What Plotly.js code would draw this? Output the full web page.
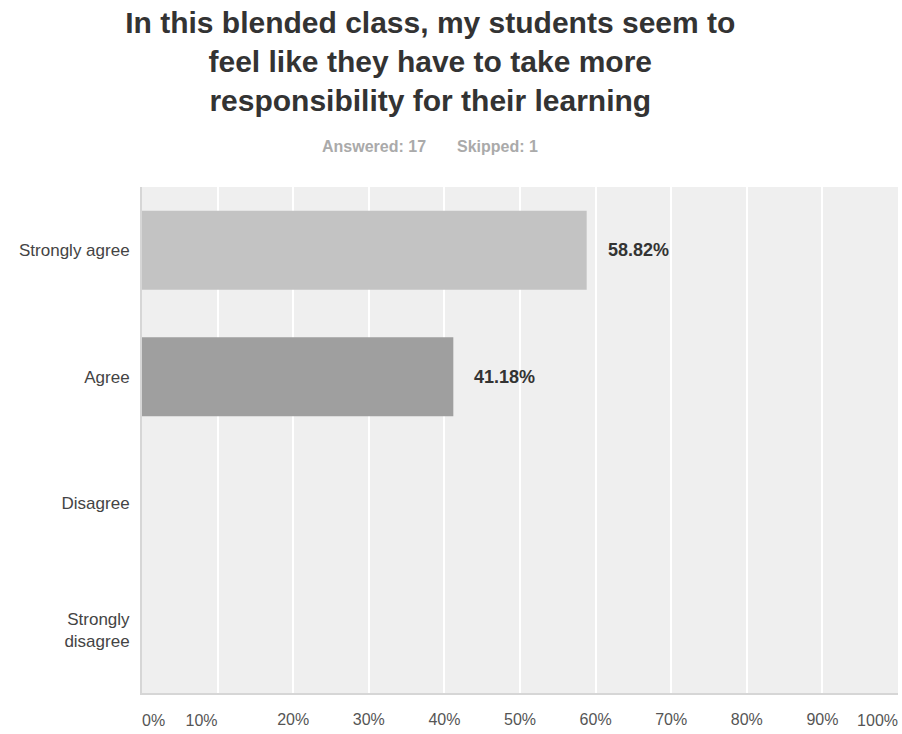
<!DOCTYPE html>
<html>
<head>
<meta charset="utf-8">
<script src="https://cdn.plot.ly/plotly-3.0.1.min.js"></script>
<style>html,body{margin:0;padding:0;background:#fff;}#chart{width:902px;height:734px;}</style>
</head>
<body>
<div id="chart"></div>
<script>
// ---- data ----
const categories = ["Strongly agree", "Agree", "Disagree", "Strongly disagree"];
const categoryLabels = ["Strongly agree", "Agree", "Disagree", "Strongly<br>disagree"];
const percents = [58.82, 41.18, 0, 0];
const answered = 17;
const skipped = 1;
const titleText = "In this blended class, my students seem to<br>feel like they have to take more<br>responsibility for their learning";
const tickValsMid = [20, 30, 40, 50, 60, 70, 80, 90];
const tickValsLeft = [10, 100];
const tickValsRight = [0];

// ---- style ----
const barColors = ["#c3c3c3", "#9f9f9f", "#c3c3c3", "#9f9f9f"];
const FONT = "Arial, 'Liberation Sans', sans-serif";
const pct = v => v + "%";

const shown = percents.map((v, i) => ({v, i})).filter(d => d.v > 0);

const traces = [
  {
    type: "bar", orientation: "h",
    x: percents, y: categories,
    marker: {color: barColors, line: {width: 0}},
    hoverinfo: "skip", showlegend: false
  },
  {type: "scatter", x: [], y: [], xaxis: "x2", yaxis: "y", hoverinfo: "skip", showlegend: false},
  {type: "scatter", x: [], y: [], xaxis: "x3", yaxis: "y", hoverinfo: "skip", showlegend: false}
];

const tickFont = {family: FONT, size: 16, color: "#555"};
const baseX = {
  range: [0, 100], fixedrange: true,
  tickfont: tickFont, ticks: "", ticklabelstandoff: 11,
  zeroline: false
};

const layout = {
  width: 902, height: 734,
  paper_bgcolor: "#ffffff", plot_bgcolor: "#efefef",
  margin: {l: 142, r: 4, t: 187, b: 41},
  bargap: 0.375,
  font: {family: FONT},
  title: {
    text: "<b>" + titleText + "</b>",
    font: {family: FONT, size: 30, color: "#333"},
    x: 0.477, xanchor: "center", xref: "container",
    y: 1 - 33 / 734, yanchor: "middle", yref: "container"
  },
  xaxis: Object.assign({}, baseX, {
    tickvals: tickValsMid, ticktext: tickValsMid.map(pct),
    showgrid: true, gridcolor: "#ffffff", gridwidth: 2,
    showline: true, linecolor: "#d6d6d6", linewidth: 2, mirror: false
  }),
  xaxis2: Object.assign({}, baseX, {
    overlaying: "x", side: "bottom", ticklabelstandoff: 16,
    tickvals: tickValsLeft, ticktext: tickValsLeft.map(pct),
    ticklabelposition: "outside left",
    showgrid: true, gridcolor: "#ffffff", gridwidth: 2, showline: false
  }),
  xaxis3: Object.assign({}, baseX, {
    overlaying: "x", side: "bottom", ticklabelstandoff: 16,
    tickvals: tickValsRight, ticktext: tickValsRight.map(pct),
    ticklabelposition: "outside right",
    showgrid: false, showline: false
  }),
  yaxis: {
    type: "category", categoryorder: "array", categoryarray: categories,
    autorange: "reversed", fixedrange: true,
    tickvals: categories, ticktext: categoryLabels,
    tickfont: {family: FONT, size: 17, color: "#444"},
    ticks: "", ticklabelstandoff: 7,
    showgrid: false, zeroline: false,
    showline: true, linecolor: "#d6d6d6", linewidth: 2
  },
  annotations: shown.map(d => ({
    x: d.v, y: categories[d.i], xref: "x", yref: "y",
    text: "<b>" + pct(d.v.toFixed(2)) + "</b>",
    showarrow: false, xanchor: "left", yanchor: "middle", xshift: 19,
    font: {family: FONT, size: 18, color: "#333"}
  })).concat([
    {
      xref: "paper", yref: "paper", x: (374 - 142) / 756, y: (693 - 146) / 506,
      text: "<b>Answered: " + answered + "</b>", showarrow: false,
      xanchor: "center", yanchor: "middle",
      font: {family: FONT, size: 16, color: "#aaaaaa"}
    },
    {
      xref: "paper", yref: "paper", x: (497 - 142) / 756, y: (693 - 146) / 506,
      text: "<b>Skipped: " + skipped + "</b>", showarrow: false,
      xanchor: "center", yanchor: "middle",
      font: {family: FONT, size: 16, color: "#aaaaaa"}
    }
  ])
};

Plotly.newPlot("chart", traces, layout, {displayModeBar: false, staticPlot: true});
</script>
</body>
</html>
